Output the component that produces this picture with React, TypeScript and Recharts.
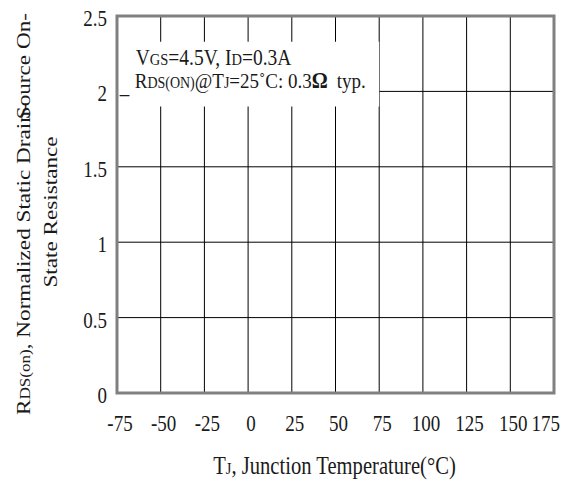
import React from "react";
import { ComposedChart, XAxis, YAxis, CartesianGrid, ReferenceArea } from "recharts";

const tempTicks = [-75, -50, -25, 0, 25, 50, 75, 100, 125, 150, 175];
const resTicks = [0, 0.5, 1, 1.5, 2, 2.5];
const tempRows = tempTicks.map((t) => ({ t }));
const annotationX = [-74.6, 75];
const annotationY = [1.9, 2.33];

const FONT = "'Liberation Serif', 'Times New Roman', serif";
const INK = "#1a1a1a";

const XTick = (props: any) => {
  const { x, y, payload, index } = props;
  const last = index === tempTicks.length - 1;
  return (
    <g transform={`translate(${last ? x + 6 : x + 3},${y + 38}) scale(1,1.17)`}>
      <text textAnchor={last ? "end" : "middle"} fontFamily={FONT} fontSize={19} fill={INK}>
        {payload.value}
      </text>
    </g>
  );
};

const YTick = (props: any) => {
  const { x, y, payload } = props;
  return (
    <g transform={`translate(${x - 10},${y + 10}) scale(1,1.17)`}>
      <text textAnchor="end" fontFamily={FONT} fontSize={19} fill={INK}>
        {payload.value}
      </text>
    </g>
  );
};

const XTitle = (props: any) => {
  const vb = props.viewBox;
  const cx = vb.x + vb.width / 2;
  return (
    <g transform={`translate(${cx - 1},${vb.y + 81}) scale(1,1.2)`}>
      <text textAnchor="middle" fontFamily={FONT} fontSize={20.6} fill={INK}>
        T<tspan fontSize={14.5}>J</tspan>, Junction Temperature(°C)
      </text>
    </g>
  );
};

const YTitle = (props: any) => {
  const vb = props.viewBox;
  const bottom = vb.y + vb.height;
  return (
    <g fontFamily={FONT} fontSize={19} fill={INK}>
      <g transform={`translate(${vb.x - 27},${bottom + 22}) rotate(-90) scale(1.22,1)`}>
        <text textAnchor="start">
          R<tspan fontSize={14}>DS(on)</tspan>, Normalized Static Drain-
        </text>
      </g>
      <g transform={`translate(${vb.x - 27},${vb.y - 3}) rotate(-90) scale(1.22,1)`}>
        <text textAnchor="end">Source On-</text>
      </g>
      <g transform={`translate(${vb.x},${vb.y + 196}) rotate(-90) scale(1.22,1)`}>
        <text textAnchor="middle">State Resistance</text>
      </g>
    </g>
  );
};

const Annotation = (props: any) => {
  const vb = props.viewBox;
  return (
    <g fontFamily={FONT} fill={INK}>
      <g transform={`translate(${vb.x + 18},${vb.y + 23}) scale(1,1.13)`}>
        <text fontSize={19.5}>
          V<tspan fontSize={14.5}>GS</tspan>=4.5V, I<tspan fontSize={14.5}>D</tspan>=0.3A
        </text>
      </g>
      <g transform={`translate(${vb.x + 2},${vb.y + 51}) scale(1,1.13)`}>
        <text fontSize={19}>_</text>
      </g>
      <g transform={`translate(${vb.x + 17},${vb.y + 46}) scale(1,1.13)`}>
        <text fontSize={19}>
          R<tspan fontSize={14}>DS(ON)</tspan>@T<tspan fontSize={14}>J</tspan>=25˚C: 0.3
          <tspan fontSize={20} fontWeight="bold">Ω</tspan>
          <tspan dx={9}>typ.</tspan>
        </text>
      </g>
    </g>
  );
};

export default function App() {
  return (
    <div style={{ position: "absolute", left: 0, top: 0, background: "#fff" }}>
      <ComposedChart
        width={578}
        height={484}
        data={tempRows}
        margin={{ top: 16, right: 24, bottom: 51, left: 57 }}
      >
        <CartesianGrid stroke="#000" strokeWidth={1} fill="#fff" />
        <XAxis
          dataKey="t"
          type="number"
          domain={[-75, 175]}
          ticks={tempTicks}
          interval={0}
          height={40}
          axisLine={false}
          tickLine={false}
          tickSize={0}
          tickMargin={0}
          tick={<XTick />}
          label={{ content: <XTitle /> } as any}
          allowDataOverflow
        />
        <YAxis
          type="number"
          domain={[0, 2.5]}
          ticks={resTicks}
          interval={0}
          width={60}
          axisLine={false}
          tickLine={false}
          tickSize={0}
          tickMargin={0}
          tick={<YTick />}
          label={{ content: <YTitle /> } as any}
          allowDataOverflow
        />
        <ReferenceArea
          x1={annotationX[0]}
          x2={annotationX[1]}
          y1={annotationY[0]}
          y2={annotationY[1]}
          fill="#fff"
          fillOpacity={1}
          stroke="none"
          ifOverflow="visible"
          label={<Annotation />}
        />
        <ReferenceArea
          x1={-75}
          x2={175}
          y1={0}
          y2={2.5}
          fill="none"
          stroke="#808080"
          strokeWidth={3}
          ifOverflow="visible"
        />
      </ComposedChart>
    </div>
  );
}
